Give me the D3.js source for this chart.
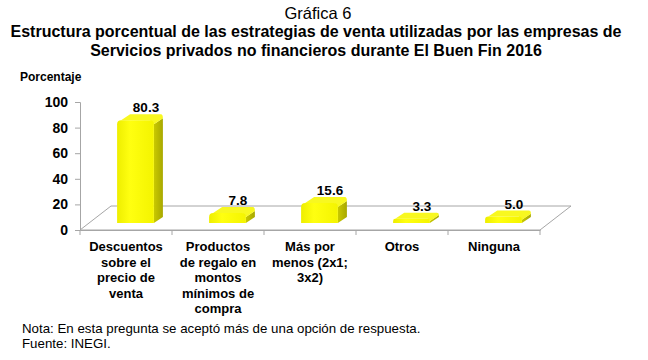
<!DOCTYPE html>
<html><head><meta charset="utf-8">
<script src="https://cdn.jsdelivr.net/npm/d3@7"></script>
<style>body{margin:0;background:#fff}svg{display:block}</style>
</head><body>
<script>
const categories = ["Descuentos sobre el precio de venta","Productos de regalo en montos mínimos de compra","Más por menos (2x1; 3x2)","Otros","Ninguna"];
const categoryLines = [["Descuentos","sobre el","precio de","venta"],["Productos","de regalo en","montos","mínimos de","compra"],["Más por","menos (2x1;","3x2)"],["Otros"],["Ninguna"]];
const values = [80.3, 7.8, 15.6, 3.3, 5.0];
const yTicks = [0,20,40,60,80,100];

const W=648,H=360;
const svg=d3.select("body").append("svg").attr("width",W).attr("height",H);
const font="Liberation Sans, Arial, sans-serif";

// titles
svg.append("text").attr("x",318).attr("y",19).attr("text-anchor","middle")
  .attr("font-family",font).attr("font-size",16.5).text("Gráfica 6");
svg.append("text").attr("x",316).attr("y",37).attr("text-anchor","middle")
  .attr("font-family",font).attr("font-size",16).attr("font-weight","bold")
  .text("Estructura porcentual de las estrategias de venta utilizadas por las empresas de");
svg.append("text").attr("x",316).attr("y",56).attr("text-anchor","middle")
  .attr("font-family",font).attr("font-size",16).attr("font-weight","bold")
  .text("Servicios privados no financieros durante El Buen Fin 2016");

svg.append("text").attr("x",20).attr("y",81).attr("font-family",font)
  .attr("font-size",12).attr("font-weight","bold").text("Porcentaje");

const x=d3.scaleBand().domain(categories).range([80,540]).padding(0);
const y=d3.scaleLinear().domain([0,100]).range([230,102]);
const DX=31, DY=24; // floor depth
const grey="#a6a6a6";

// floor
const f0=y(0);
svg.append("path").attr("d",`M80,${f0}L540,${f0}L${540+DX},${f0-DY}L${80+DX},${f0-DY}Z`)
  .attr("fill","none").attr("stroke",grey).attr("stroke-width",1);

// y axis
const yAxis=d3.axisLeft(y).tickValues(yTicks).tickSize(5).tickPadding(7);
const ga=svg.append("g").attr("transform","translate(80,0)").call(yAxis);
ga.selectAll("path,line").attr("stroke",grey);
ga.selectAll("text").attr("font-family",font).attr("font-size",14).attr("font-weight","bold").attr("fill","#000");

// x axis ticks
const xAxis=d3.axisBottom(x).tickSize(0).tickFormat("");
const gx=svg.append("g").attr("transform",`translate(0,${f0})`).call(xAxis);
gx.select("path").attr("stroke",grey);
const bounds=d3.range(categories.length+1).map(i=>80+i*x.bandwidth());
gx.selectAll("line.b").data(bounds).enter().append("line").attr("class","b")
  .attr("x1",d=>d).attr("x2",d=>d).attr("y1",0).attr("y2",5).attr("stroke",grey);

// category labels
categories.forEach((c,i)=>{
  const t=svg.append("text").attr("text-anchor","middle").attr("font-family",font)
    .attr("font-size",13).attr("font-weight","bold");
  categoryLines[i].forEach((ln,j)=>{
    t.append("tspan").attr("x",x(c)+x.bandwidth()/2).attr("y",251+j*15.5).text(ln);
  });
});

// gradients
const defs=svg.append("defs");
const gf=defs.append("linearGradient").attr("id","gf").attr("x1",0).attr("x2",1).attr("y1",0).attr("y2",0);
gf.append("stop").attr("offset","0%").attr("stop-color","#eeee00");
gf.append("stop").attr("offset","35%").attr("stop-color","#ffff10");
gf.append("stop").attr("offset","100%").attr("stop-color","#f4f400");
const gs=defs.append("linearGradient").attr("id","gs").attr("x1",0).attr("x2",1).attr("y1",0).attr("y2",0);
gs.append("stop").attr("offset","0%").attr("stop-color","#c9c900");
gs.append("stop").attr("offset","100%").attr("stop-color","#a8a800");

// bars
const bw=x.bandwidth()*0.4, bdx=9, bdy=6, off=7;
const bars=svg.append("g");
categories.forEach((c,i)=>{
  const v=values[i];
  const cx=x(c)+x.bandwidth()/2+9.5;
  const x0=cx-bw/2, x1=cx+bw/2;
  const yt=y(v)-off, yb=y(0)-off;
  const r=Math.min(4,(yb-yt)/2);
  bars.append("path").attr("d",`M${x1},${yt+r}L${x1+bdx},${yt-bdy+r}L${x1+bdx},${yb-bdy}L${x1},${yb}Z`)
    .attr("fill","url(#gs)");
  bars.append("path").attr("d",`M${x0+r},${yt}L${x0+r+bdx},${yt-bdy}L${x1+bdx-2},${yt-bdy}Q${x1+bdx},${yt-bdy} ${x1+bdx},${yt-bdy+r}L${x1},${yt+r}L${x1-r},${yt}Z`)
    .attr("fill","#f8f820");
  bars.append("path").attr("d",`M${x0},${yb}L${x0},${yt+r}Q${x0},${yt} ${x0+r},${yt}L${x1-r},${yt}Q${x1},${yt} ${x1},${yt+r}L${x1},${yb}Z`)
    .attr("fill","url(#gf)");
  svg.append("text").attr("x",cx+bdx/2+6).attr("y",yt-bdy-2).attr("text-anchor","middle")
    .attr("font-family",font).attr("font-size",13.5).attr("font-weight","bold").text(v.toFixed(1));
});

// notes
svg.append("text").attr("x",22).attr("y",333).attr("font-family",font).attr("font-size",13.3)
  .text("Nota: En esta pregunta se aceptó más de una opción de respuesta.");
svg.append("text").attr("x",22).attr("y",348).attr("font-family",font).attr("font-size",13.3)
  .text("Fuente: INEGI.");
</script>
</body></html>
